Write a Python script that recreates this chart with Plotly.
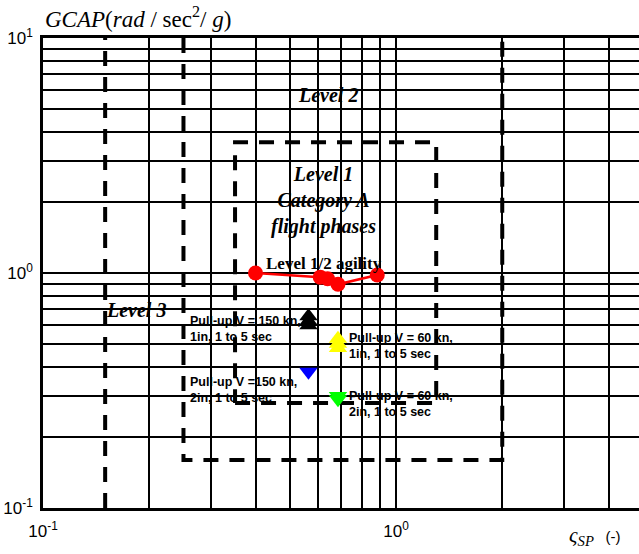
import math
import plotly.graph_objects as go

# ---- data: short-period damping ratio vs. GCAP ----
agility_zeta = [0.40, 0.61, 0.64, 0.685, 0.885]
agility_gcap = [1.0, 0.96, 0.945, 0.895, 0.98]

pullup150_1in_zeta = [0.565, 0.565, 0.565]
pullup150_1in_gcap = [0.655, 0.625, 0.60]
pullup60_1in_zeta = [0.685, 0.685, 0.685]
pullup60_1in_gcap = [0.525, 0.50, 0.48]
pullup150_2in_zeta = [0.565]
pullup150_2in_gcap = [0.38]
pullup60_2in_zeta = [0.685, 0.685]
pullup60_2in_gcap = [0.30, 0.29]

# ---- requirement boundaries (Category A flight phases) ----
level1_zeta = [0.35, 1.3]
level1_gcap = [0.28, 3.6]
level2_zeta = [0.25, 2.0]
level2_gcap = [0.16, 10.0]
level3_zeta_min = 0.15

zeta_axis = [0.1, 4.88]
gcap_axis = [0.1, 10.0]
decade_ticks = [0.1, 1.0, 10.0]
decade_labels = ["10<sup>-1</sup>", "10<sup>0</sup>", "10<sup>1</sup>"]

SERIF = "Liberation Serif, Times New Roman, serif"
SANS = "Liberation Sans, Arial, sans-serif"
DASH = dict(color="black", width=4, dash="15px,11px")

fig = go.Figure()

# Level 3 lower damping limit
fig.add_trace(go.Scatter(x=[level3_zeta_min, level3_zeta_min], y=gcap_axis,
                         mode="lines", line=DASH, hoverinfo="skip"))
# Level 2 region
fig.add_trace(go.Scatter(x=[level2_zeta[0], level2_zeta[0], level2_zeta[1], level2_zeta[1]],
                         y=[level2_gcap[1], level2_gcap[0], level2_gcap[0], level2_gcap[1]],
                         mode="lines", line=DASH, hoverinfo="skip"))
# Level 1 region
fig.add_trace(go.Scatter(x=[level1_zeta[0], level1_zeta[1], level1_zeta[1], level1_zeta[0], level1_zeta[0]],
                         y=[level1_gcap[0], level1_gcap[0], level1_gcap[1], level1_gcap[1], level1_gcap[0]],
                         mode="lines", line=DASH, hoverinfo="skip"))

# Level 1/2 agility points
fig.add_trace(go.Scatter(x=agility_zeta, y=agility_gcap, mode="lines+markers",
                         line=dict(color="#ff0000", width=2.5),
                         marker=dict(color="#ff0000", size=15, symbol="circle")))

# Pull-up manoeuvres
fig.add_trace(go.Scatter(x=pullup150_1in_zeta, y=pullup150_1in_gcap, mode="markers",
                         marker=dict(color="black", size=16, symbol="triangle-up")))
fig.add_trace(go.Scatter(x=pullup60_1in_zeta, y=pullup60_1in_gcap, mode="markers",
                         marker=dict(color="#ffff00", size=16, symbol="triangle-up")))
fig.add_trace(go.Scatter(x=pullup150_2in_zeta, y=pullup150_2in_gcap, mode="markers",
                         marker=dict(color="#0000ff", size=16, symbol="triangle-down")))
fig.add_trace(go.Scatter(x=pullup60_2in_zeta, y=pullup60_2in_gcap, mode="markers",
                         marker=dict(color="#00ff00", size=16, symbol="triangle-down")))

L = math.log10


def note(x, y, text, font, xanchor="center", align="center"):
    fig.add_annotation(x=L(x), y=L(y), xref="x", yref="y", text=text, showarrow=False,
                       font=font, xanchor=xanchor, yanchor="middle", align=align)


region_font = dict(family=SERIF, size=20, color="black", weight="bold", style="italic")
label_font = dict(family=SANS, size=12.5, color="black", weight="bold")

note(0.641, 5.70, "Level 2", region_font)
note(0.625, 2.03, "Level 1<br>Category A<br>flight phases", region_font)
note(0.184, 0.695, "Level 3", region_font)
note(0.625, 1.093, "Level 1/2 agility", dict(family=SERIF, size=17, color="black", weight="bold"))

note(0.258, 0.577, "Pull-up V = 150 kn,<br>1in, 1 to 5 sec", label_font, "left", "left")
note(0.728, 0.49, "Pull-up V = 60 kn,<br>1in, 1 to 5 sec", label_font, "left", "left")
note(0.258, 0.318, "Pull-up V =150 kn,<br>2in, 1 to 5 sec", label_font, "left", "left")
note(0.728, 0.277, "Pull-up V = 60 kn,<br>2in, 1 to 5 sec", label_font, "left", "left")

# axis titles
fig.add_annotation(x=0, y=1, xref="paper", yref="paper", xanchor="left", yanchor="bottom",
                   yshift=4, showarrow=False,
                   text="<i>GCAP</i>(<i>rad</i> / sec<sup>2</sup>/ <i>g</i>)",
                   font=dict(family=SERIF, size=23, color="black"))
fig.add_annotation(x=0.879, y=0, xref="paper", yref="paper", xanchor="left", yanchor="top",
                   yshift=-13, showarrow=False,
                   text="<span style='font-family:Liberation Serif'><i>ς<sub>SP</sub></i></span>"
                        "  <span style='font-size:15px'>(-)</span>",
                   font=dict(family=SANS, size=21, color="black"))

grid = dict(gridcolor="black", gridwidth=1.5)
fig.update_xaxes(type="log", range=[L(zeta_axis[0]), L(zeta_axis[1])],
                 tickmode="array", tickvals=decade_ticks, ticktext=decade_labels,
                 showline=True, linecolor="black", linewidth=2.5, mirror=True,
                 ticks="", ticklabelstandoff=6, zeroline=False,
                 tickfont=dict(family=SANS, size=17, color="black"),
                 minor=dict(tickmode="linear", dtick="D1", showgrid=True, ticks="", **grid), **grid)
fig.update_yaxes(type="log", range=[L(gcap_axis[0]), L(gcap_axis[1])],
                 tickmode="array", tickvals=decade_ticks, ticktext=decade_labels,
                 showline=True, linecolor="black", linewidth=2.5, mirror=False,
                 ticks="", ticklabelstandoff=4, zeroline=False,
                 tickfont=dict(family=SANS, size=17, color="black"),
                 minor=dict(tickmode="linear", dtick="D1", showgrid=True, ticks="", **grid), **grid)

fig.update_layout(width=639, height=554, showlegend=False,
                  margin=dict(l=43, r=0, t=38, b=46),
                  paper_bgcolor="white", plot_bgcolor="white")

fig.write_html("out.html")
